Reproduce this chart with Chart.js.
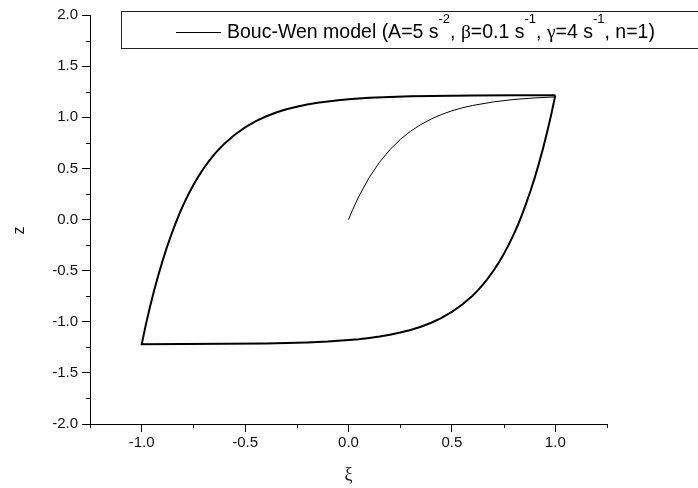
<!DOCTYPE html>
<html>
<head>
<meta charset="utf-8">
<script src="https://cdn.jsdelivr.net/npm/chart.js@4.4.1/dist/chart.umd.min.js"></script>
<style>
  html, body { margin: 0; padding: 0; background: #fff; }
  #chart { display: block; }
</style>
</head>
<body>
<canvas id="chart" width="698" height="488"></canvas>
<script>
// initial loading curve, xi goes 0 -> 1
const initXi = [0, 0.02, 0.05, 0.10, 0.15, 0.20, 0.25, 0.30, 0.35, 0.40, 0.45, 0.50, 0.55, 0.60, 0.70, 0.80, 0.90, 1.00];
const initZ  = [0, 0.096, 0.226, 0.410, 0.560, 0.683, 0.782, 0.863, 0.929, 0.983, 1.027, 1.063, 1.092, 1.115, 1.150, 1.174, 1.189, 1.199];

// steady loop: down branch 1 -> -1, then up branch -1 -> 1
const loopXi = [
  1.00, 0.98, 0.96, 0.94, 0.92, 0.90, 0.88, 0.86, 0.84, 0.82, 0.80, 0.775, 0.75, 0.725, 0.70,
  0.675, 0.65, 0.625, 0.60, 0.55, 0.50, 0.45, 0.40, 0.35, 0.30, 0.25, 0.20, 0.15, 0.10, 0.05,
  0.00, -0.10, -0.20, -0.30, -0.40, -0.60, -0.80, -1.00,
  -0.98, -0.96, -0.94, -0.92, -0.90, -0.88, -0.86, -0.84, -0.82, -0.80, -0.775, -0.75, -0.725, -0.70,
  -0.675, -0.65, -0.625, -0.60, -0.55, -0.50, -0.45, -0.40, -0.35, -0.30, -0.25, -0.20, -0.15, -0.10, -0.05,
  0.00, 0.10, 0.20, 0.30, 0.40, 0.60, 0.80, 1.00
];
const loopZ = [
  1.215, 1.023, 0.850, 0.690, 0.542, 0.405, 0.279, 0.162, 0.053, -0.049, -0.141, -0.246, -0.341, -0.427, -0.504,
  -0.574, -0.637, -0.693, -0.745, -0.832, -0.904, -0.963, -1.010, -1.049, -1.081, -1.106, -1.127, -1.144, -1.158, -1.170,
  -1.179, -1.193, -1.202, -1.208, -1.212, -1.216, -1.218, -1.220,
  -1.028, -0.855, -0.695, -0.547, -0.410, -0.283, -0.166, -0.057, 0.046, 0.138, 0.243, 0.338, 0.424, 0.501,
  0.571, 0.634, 0.690, 0.742, 0.829, 0.901, 0.960, 1.007, 1.046, 1.078, 1.103, 1.124, 1.141, 1.155, 1.167,
  1.176, 1.190, 1.199, 1.205, 1.209, 1.212, 1.214, 1.215
];

const xTicks = [-1.0, -0.5, 0.0, 0.5, 1.0];
const xMinor = [-1.25, -0.75, -0.25, 0.25, 0.75, 1.25];
const yTicks = [-2.0, -1.5, -1.0, -0.5, 0.0, 0.5, 1.0, 1.5, 2.0];
const yMinor = [-1.75, -1.25, -0.75, -0.25, 0.25, 0.75, 1.25, 1.75];

const legendParts = [
  { text: 'Bouc-Wen model (A=5 s' },
  { text: '-2', sup: true },
  { text: ', ' },
  { text: 'β', greek: true },
  { text: '=0.1 s' },
  { text: '-1', sup: true },
  { text: ', ' },
  { text: 'γ', greek: true },
  { text: '=4 s' },
  { text: '-1', sup: true },
  { text: ', n=1)' }
];

const toPoints = (xs, ys) => xs.map((v, i) => ({ x: v, y: ys[i] }));

// short ticks between the labelled ones
const minorTicks = {
  id: 'minorTicks',
  afterDraw(chart) {
    const { ctx, scales: { x, y } } = chart;
    ctx.save();
    ctx.strokeStyle = '#000';
    ctx.lineWidth = 1;
    ctx.beginPath();
    xMinor.forEach(v => {
      const px = Math.round(x.getPixelForValue(v)) + 0.5;
      ctx.moveTo(px, x.top);
      ctx.lineTo(px, x.top + 4);
    });
    yMinor.forEach(v => {
      const py = Math.round(y.getPixelForValue(v)) + 0.5;
      ctx.moveTo(y.right, py);
      ctx.lineTo(y.right - 4, py);
    });
    ctx.stroke();
    ctx.restore();
  }
};

// boxed legend with superscripts, runs off the right edge like the original
const legendBox = {
  id: 'legendBox',
  afterDraw(chart) {
    const ctx = chart.ctx;
    ctx.save();
    ctx.strokeStyle = '#222';
    ctx.lineWidth = 1;
    ctx.strokeRect(121.5, 11.5, 640, 37);
    ctx.beginPath();
    ctx.moveTo(176, 32.5);
    ctx.lineTo(221, 32.5);
    ctx.strokeStyle = '#000';
    ctx.stroke();
    let cx = 227;
    const base = 38;
    ctx.fillStyle = '#000';
    ctx.textBaseline = 'alphabetic';
    legendParts.forEach(p => {
      ctx.font = p.sup ? '13px "Liberation Sans"'
        : p.greek ? '19.5px "Liberation Serif"' : '19.5px "Liberation Sans"';
      ctx.fillText(p.text, cx, p.sup ? base - 15 : base);
      cx += ctx.measureText(p.text).width;
    });
    ctx.restore();
  }
};

const tickFont = { family: 'Liberation Sans', size: 15 };

new Chart(document.getElementById('chart'), {
  type: 'scatter',
  data: {
    datasets: [
      {
        data: toPoints(initXi, initZ),
        showLine: true,
        borderColor: '#000',
        borderWidth: 1,
        pointRadius: 0,
        fill: false
      },
      {
        data: toPoints(loopXi, loopZ),
        showLine: true,
        borderColor: '#000',
        borderWidth: 2,
        pointRadius: 0,
        fill: false
      }
    ]
  },
  options: {
    responsive: false,
    animation: false,
    layout: { padding: { left: 0, right: 91, top: 15, bottom: 0 } },
    plugins: { legend: { display: false }, tooltip: { enabled: false } },
    scales: {
      x: {
        type: 'linear',
        min: -1.25,
        max: 1.25,
        afterBuildTicks: s => { s.ticks = xTicks.map(v => ({ value: v })); },
        afterFit: s => { s.height = 64; },
        grid: { drawOnChartArea: false, drawTicks: true, tickLength: 8, color: '#000' },
        border: { display: true, color: '#000', width: 1 },
        ticks: {
          padding: 2,
          font: tickFont,
          color: '#111',
          maxRotation: 0,
          autoSkip: false,
          callback: v => v.toFixed(1)
        },
        title: {
          display: true,
          text: 'ξ',
          color: '#111',
          font: { family: 'Liberation Serif', size: 18 },
          padding: { top: 0, bottom: 2 }
        }
      },
      y: {
        type: 'linear',
        min: -2,
        max: 2,
        afterBuildTicks: s => { s.ticks = yTicks.map(v => ({ value: v })); },
        afterFit: s => { s.width = 90; },
        grid: { drawOnChartArea: false, drawTicks: true, tickLength: 8, color: '#000' },
        border: { display: true, color: '#000', width: 1 },
        ticks: {
          padding: 4,
          font: tickFont,
          color: '#111',
          autoSkip: false,
          callback: v => v.toFixed(1)
        },
        title: {
          display: true,
          text: 'z     ',
          color: '#111',
          font: { family: 'Liberation Sans', size: 16 },
          padding: { top: 10, bottom: 0 }
        }
      }
    }
  },
  plugins: [minorTicks, legendBox]
});
</script>
</body>
</html>
